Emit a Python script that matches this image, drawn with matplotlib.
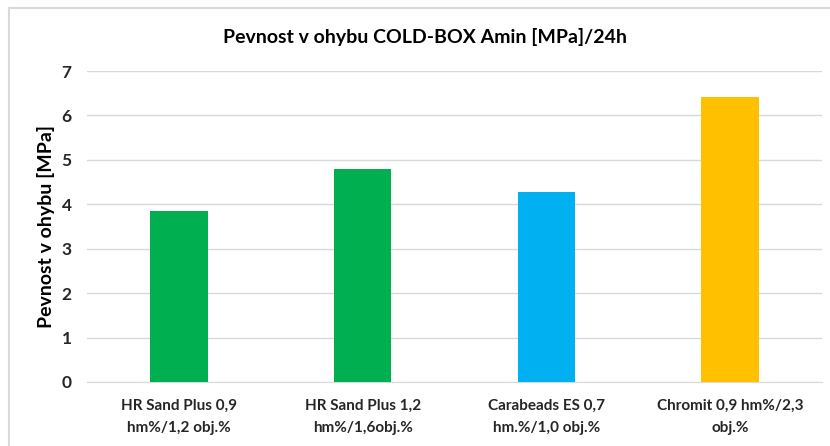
import matplotlib.pyplot as plt
from matplotlib.lines import Line2D

# data
categories = ["HR Sand Plus 0,9\nhm%/1,2 obj.%",
              "HR Sand Plus 1,2\nhm%/1,6obj.%",
              "Carabeads ES 0,7\nhm.%/1,0 obj.%",
              "Chromit 0,9 hm%/2,3\nobj.%"]
values = [3.85, 4.80, 4.27, 6.42]
colors = ["#00B050", "#00B050", "#00B0F0", "#FFC000"]
yticks = [0, 1, 2, 3, 4, 5, 6, 7]

plt.rcParams['font.family'] = ['Lato', 'DejaVu Sans']

fig = plt.figure(figsize=(8.30, 4.46), dpi=100)
ax = fig.add_axes([87/830, 1 - 382/446, 735/830, 311/446])

x = range(len(categories))
ax.bar(x, values, width=0.313, color=colors, zorder=3)

ax.set_xlim(-0.5, len(categories) - 0.5)
ax.set_ylim(0, 7)
ax.set_yticks(yticks)
ax.set_yticklabels([str(t) for t in yticks], fontsize=12.5, fontweight="bold", color="#262626")
ax.set_xticks(list(x))
ax.set_xticklabels(categories, fontsize=11, fontweight="bold", color="#262626", linespacing=1.75)
ax.tick_params(axis="both", length=0)
ax.tick_params(axis="x", pad=12)
ax.tick_params(axis="y", pad=11)

ax.grid(axis="y", color="#D9D9D9", linewidth=1, zorder=0)
for s in ["top", "right", "left"]:
    ax.spines[s].set_visible(False)
ax.spines["bottom"].set_color("#D9D9D9")

ax.set_ylabel("Pevnost v ohybu [MPa]", fontsize=14, fontweight="bold", color="#000000", labelpad=5)
fig.text(425/830, 1 - 37/446, "Pevnost v ohybu COLD-BOX Amin [MPa]/24h",
         ha="center", va="center", fontsize=14, fontweight="bold", color="#000000")

# chart area border (top and left visible)
fig.add_artist(Line2D([9/830, 9/830], [0, 1 - 8/446], transform=fig.transFigure,
                      color="#D9D9D9", linewidth=1.5))
fig.add_artist(Line2D([9/830, 1], [1 - 8/446, 1 - 8/446], transform=fig.transFigure,
                      color="#D9D9D9", linewidth=1.5))

fig.savefig("out.png", dpi=100)
